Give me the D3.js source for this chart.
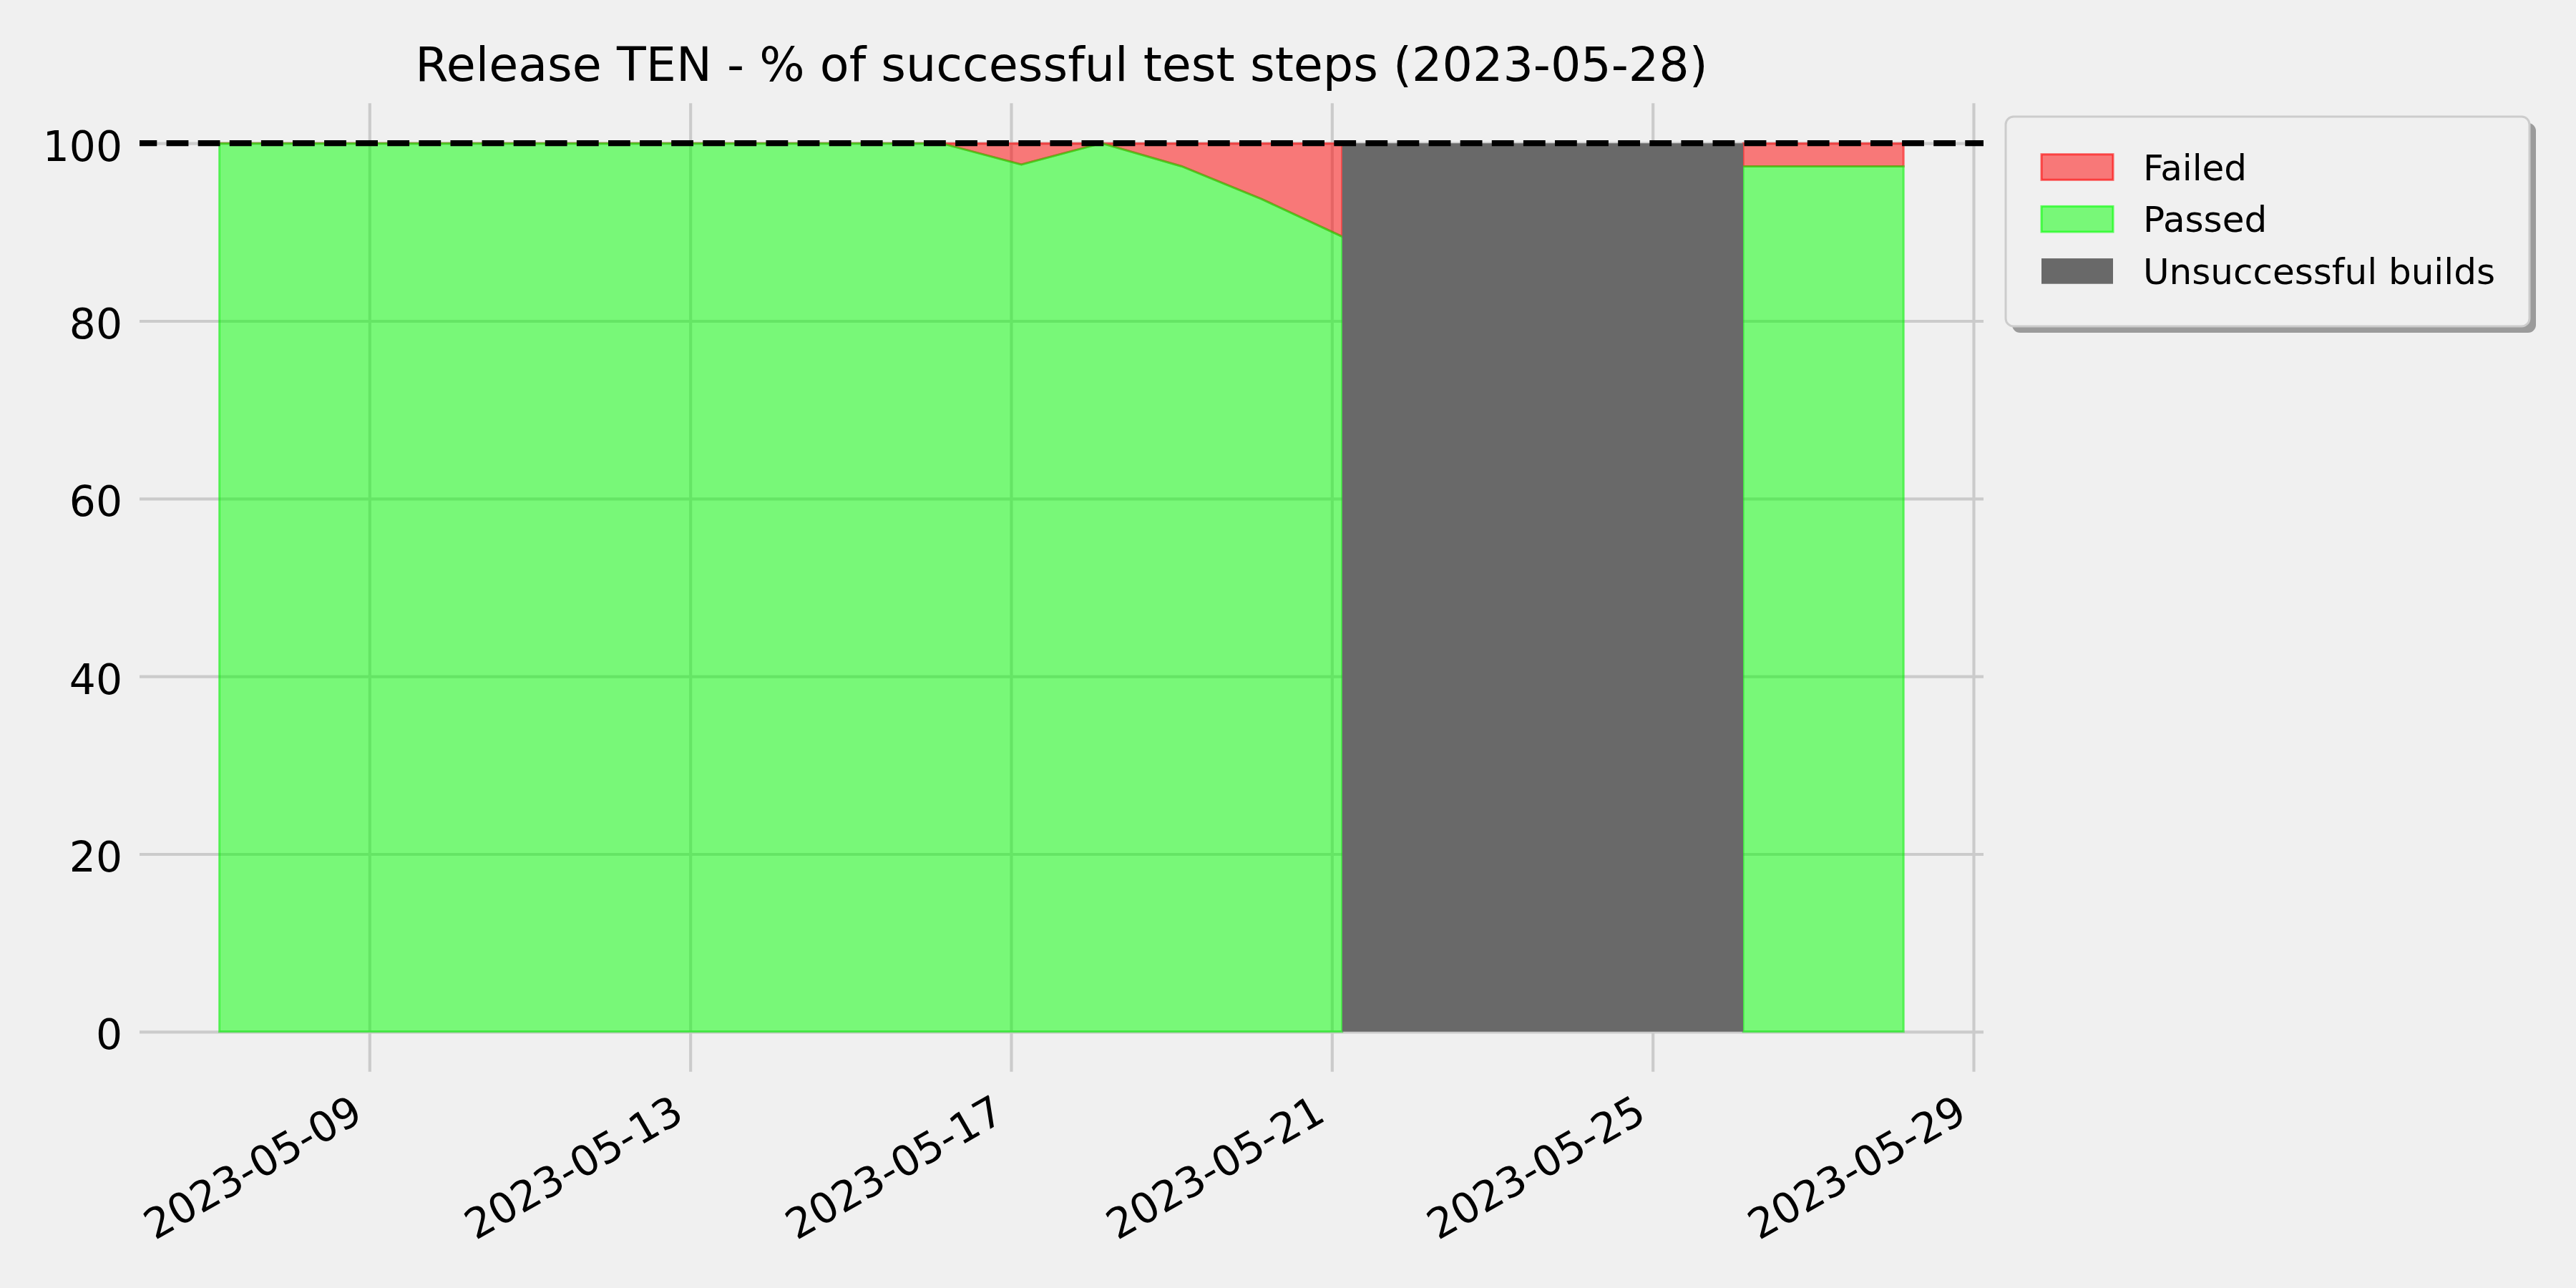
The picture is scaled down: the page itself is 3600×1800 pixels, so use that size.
<!DOCTYPE html>
<html>
<head>
<meta charset="utf-8">
<script src="https://cdn.jsdelivr.net/npm/d3@7"></script>
<style>
  html, body { margin: 0; padding: 0; background: #f0f0f0; }
  svg { display: block; }
  text { font-family: "DejaVu Sans", sans-serif; }
</style>
</head>
<body>
<script>
// ---------- data ----------
const buildDates = [
  "2023-05-07", "2023-05-08", "2023-05-09", "2023-05-10", "2023-05-11", "2023-05-12",
  "2023-05-13", "2023-05-14", "2023-05-15", "2023-05-16", "2023-05-17", "2023-05-18",
  "2023-05-19", "2023-05-20", "2023-05-21", "2023-05-22", "2023-05-23", "2023-05-24",
  "2023-05-25", "2023-05-26", "2023-05-27", "2023-05-28"
];
const passedPct = [
  100, 100, 100, 100, 100, 100, 100, 100, 100, 100, 97.6, 100,
  97.4, 93.7, 89.5, null, null, null, null, 97.4, 97.4, 97.4
];
const failedPct = [
  0, 0, 0, 0, 0, 0, 0, 0, 0, 0, 2.4, 0,
  2.6, 6.3, 10.5, null, null, null, null, 2.6, 2.6, 2.6
];
// 100 = build unsuccessful from this build until the next one
const unsuccessfulPct = [
  0, 0, 0, 0, 0, 0, 0, 0, 0, 0, 0, 0,
  0, 0, 100, 100, 100, 100, 100, 0, 0, 0
];
const xTickLabels = ["2023-05-09", "2023-05-13", "2023-05-17", "2023-05-21", "2023-05-25", "2023-05-29"];
const yTickValues = [0, 20, 40, 60, 80, 100];
const xDomain = ["2023-05-06T03:12", "2023-05-29T03:00"];
const yDomain = [-4.5, 104.5];
const targetPct = 100;
const titleText = "Release TEN - % of successful test steps (2023-05-28)";
const legendLabels = ["Failed", "Passed", "Unsuccessful builds"];

(function () {
// ---------- layout ----------
const W = 3600, H = 1800;
const axLeft = 195, axRight = 2772, axTop = 144.3, axBottom = 1497.7;
const tickFont = 58.3, titleFont = 66.7, legendFont = 50;

const parseDay = d3.timeParse("%Y-%m-%d");
const parseT = d3.timeParse("%Y-%m-%dT%H:%M");

const rows = buildDates.map((d, i) => ({
  date: parseT(d + "T03:05"),
  passed: passedPct[i],
  failed: failedPct[i],
  unsucc: unsuccessfulPct[i]
}));

const x = d3.scaleTime().domain(xDomain.map(parseT)).range([axLeft, axRight]);
const y = d3.scaleLinear().domain(yDomain).range([axBottom, axTop]);

const svg = d3.select("body").append("svg").attr("width", W).attr("height", H);
svg.append("rect").attr("width", W).attr("height", H).attr("fill", "#f0f0f0");

// ---------- grid via axes ----------
const gridColor = "#cbcbcb", gridW = 4.17;

const yAxis = d3.axisLeft(y).tickValues(yTickValues).tickSize(-(axRight - axLeft)).tickPadding(24).tickFormat(d3.format("d"));
const gy = svg.append("g").attr("transform", `translate(${axLeft},0)`).call(yAxis);
gy.select(".domain").remove();
gy.selectAll(".tick line").attr("stroke", gridColor).attr("stroke-width", gridW);
gy.selectAll(".tick text")
  .attr("font-size", tickFont).attr("fill", "#000").attr("dy", "0.41em")
  .attr("x", -24).style("font-family", "DejaVu Sans");

const xTicks = xTickLabels.map(parseDay);
const xAxis = d3.axisBottom(x).tickValues(xTicks).tickSize(-(axBottom - axTop)).tickFormat(d3.timeFormat("%Y-%m-%d"));
const gx = svg.append("g").attr("transform", `translate(0,${axBottom})`).call(xAxis);
gx.select(".domain").remove();
gx.selectAll(".tick line").attr("stroke", gridColor).attr("stroke-width", gridW);
const boxH = tickFont * 0.996;
gx.selectAll(".tick text")
  .attr("font-size", tickFont).attr("fill", "#000")
  .attr("text-anchor", "end")
  .attr("x", 0).attr("y", 0).attr("dy", "0.76em")
  .attr("transform", `translate(${-boxH * 0.5},${1526 - axBottom}) rotate(-30)`)
  .style("font-family", "DejaVu Sans");

// ---------- areas ----------
const plot = svg.append("g");

const passedArea = d3.area()
  .defined(d => d.passed != null)
  .x(d => x(d.date))
  .y0(y(0))
  .y1(d => y(d.passed));

const failedArea = d3.area()
  .defined(d => d.passed != null)
  .x(d => x(d.date))
  .y0(d => y(d.passed))
  .y1(d => y(d.passed + d.failed));

const unsuccArea = d3.area()
  .curve(d3.curveStepAfter)
  .x(d => x(d.date))
  .y0(y(0))
  .y1(d => y(d.unsucc));

plot.append("path").datum(rows).attr("d", failedArea)
  .attr("fill", "#ff0000").attr("fill-opacity", 0.5)
  .attr("stroke", "#ff0000").attr("stroke-opacity", 0.5).attr("stroke-width", 3);

plot.append("path").datum(rows).attr("d", passedArea)
  .attr("fill", "#00ff00").attr("fill-opacity", 0.5)
  .attr("stroke", "#00ee00").attr("stroke-opacity", 0.5).attr("stroke-width", 3);

plot.append("path").datum(rows).attr("d", unsuccArea)
  .attr("fill", "#696969").attr("stroke", "none");

// target line
plot.append("line")
  .attr("x1", axLeft).attr("x2", axRight)
  .attr("y1", y(targetPct)).attr("y2", y(targetPct))
  .attr("stroke", "#000").attr("stroke-width", 8.33)
  .attr("stroke-dasharray", "30.8 13.3").attr("stroke-dashoffset", 6.5);

// ---------- title ----------
svg.append("text")
  .attr("x", (axLeft + axRight) / 2).attr("y", 113)
  .attr("text-anchor", "middle").attr("font-size", titleFont).attr("fill", "#000")
  .text(titleText);

// ---------- legend ----------
const lg = svg.append("g");
const lx = 2803, ly = 163, lw = 732, lh = 293;
lg.append("rect").attr("x", lx + 9).attr("y", ly + 9).attr("width", lw).attr("height", lh)
  .attr("rx", 11).attr("fill", "#9b9b9b");
lg.append("rect").attr("x", lx).attr("y", ly).attr("width", lw).attr("height", lh)
  .attr("rx", 11).attr("fill", "#f0f0f0").attr("stroke", "#cccccc").attr("stroke-width", 3);

const legendStyles = [
  { fill: "#ff0000", op: 0.5, stroke: "#ff0000", sop: 0.6 },
  { fill: "#00ff00", op: 0.5, stroke: "#00ff00", sop: 0.6 },
  { fill: "#696969", op: 1, stroke: "none", sop: 0 }
];
legendLabels.forEach((lab, i) => {
  const ry = 215.7 + i * 72.7;
  const s = legendStyles[i];
  lg.append("rect").attr("x", 2853).attr("y", ry).attr("width", 100).attr("height", 35.6)
    .attr("fill", s.fill).attr("fill-opacity", s.op)
    .attr("stroke", s.stroke).attr("stroke-opacity", s.sop).attr("stroke-width", 3);
  lg.append("text").attr("x", 2995).attr("y", ry + 35.8)
    .attr("font-size", legendFont).attr("fill", "#000").text(lab);
});
})();
</script>
</body>
</html>
